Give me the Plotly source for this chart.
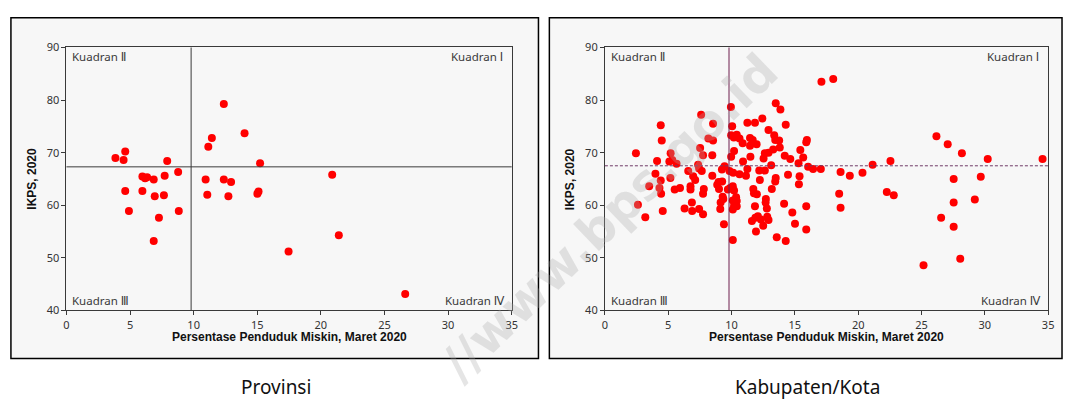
import plotly.graph_objects as go

W, H = 1070, 406

# Provinsi: poverty rate (%) vs IKPS 2020
prov_miskin = [12.37, 14.0, 11.43, 11.15, 15.22, 3.85, 4.62, 4.49, 7.92, 8.78,
               5.97, 6.18, 6.34, 6.86, 7.72, 10.94, 12.37, 12.94, 4.62, 5.97,
               6.94, 7.66, 11.07, 12.73, 15.01, 15.1, 4.91, 8.83, 7.27, 6.86,
               17.46, 20.89, 21.41, 26.63]
prov_ikps = [79.25, 73.7, 72.8, 71.1, 68.0, 69.0, 70.2, 68.6, 68.4, 66.3,
             65.46, 65.15, 65.3, 64.9, 65.6, 64.9, 64.9, 64.4, 62.7, 62.7,
             61.7, 61.9, 62.0, 61.7, 62.2, 62.6, 58.9, 58.9, 57.6, 53.2,
             51.2, 65.8, 54.3, 43.1]

# Kabupaten/Kota: poverty rate (%) vs IKPS 2020
kab_miskin = [2.45, 4.41, 4.49, 4.12, 5.19, 5.09, 5.32, 5.66, 3.99, 5.17,
              7.60, 8.54, 8.17, 8.54, 7.52, 7.75, 8.48, 6.58, 7.36, 7.44,
              7.65, 6.97, 8.48, 9.24, 9.45, 9.95, 10.05, 9.97, 10.18, 10.2,
              9.97, 9.84, 10.13, 17.1, 18.03, 13.49, 13.86, 11.25, 11.85, 12.43,
              14.28, 12.92, 13.37, 13.45, 13.76, 10.41, 10.63, 11.46, 11.67, 10.88,
              11.98, 11.46, 15.95, 15.9, 13.81, 13.29, 15.43, 12.63, 12.92, 12.53,
              11.49, 14.2, 14.64, 15.66, 15.29, 10.91, 13.13, 16.05, 16.44, 17.05,
              21.14, 22.55, 18.61, 19.34, 20.34, 11.25, 10.63, 12.19, 12.63, 14.46,
              15.37, 11.14, 13.49, 26.18, 27.07, 28.19, 30.23, 34.56, 27.54, 29.68,
              22.81, 27.54, 29.21, 26.55, 27.54, 28.06, 25.16, 18.5, 18.61, 22.26,
              15.32, 13.45, 12.24, 13.18, 11.72, 11.77, 12.0, 10.36, 10.41, 10.2,
              10.41, 10.1, 12.71, 12.69, 12.79, 14.15, 15.9, 11.85, 14.8, 12.82,
              12.92, 12.08, 11.88, 11.61, 12.32, 12.5, 15.01, 15.9, 11.93, 13.57,
              14.28, 10.1, 2.61, 3.19, 3.5, 4.41, 4.31, 4.44, 4.57, 5.51,
              5.93, 6.29, 6.76, 6.76, 6.87, 6.89, 7.13, 7.44, 7.75, 7.81,
              7.75, 8.87, 9.01, 8.98, 9.26, 9.14, 9.3, 9.35, 9.11, 9.4,
              9.71, 9.89, 10.1, 10.1, 10.2]
kab_ikps = [69.9, 75.2, 72.3, 68.4, 69.9, 68.3, 68.6, 67.9, 66.0, 65.2,
            77.2, 75.5, 72.7, 72.3, 70.9, 69.5, 69.5, 66.5, 67.7, 67.0,
            66.5, 65.5, 65.6, 66.8, 67.4, 78.7, 75.0, 73.3, 72.9, 70.3,
            69.2, 66.5, 66.2, 83.5, 84.0, 79.4, 78.2, 75.7, 75.7, 76.5,
            75.3, 74.3, 73.3, 72.4, 72.3, 73.4, 72.7, 72.8, 72.4, 71.8,
            71.6, 71.3, 72.4, 72.0, 71.0, 70.6, 70.5, 69.9, 70.0, 68.9,
            69.2, 69.4, 68.8, 69.1, 68.0, 68.3, 67.6, 67.3, 66.9, 66.9,
            67.7, 68.4, 66.3, 65.6, 66.2, 66.9, 65.9, 66.6, 66.6, 65.8,
            65.5, 65.6, 65.2, 73.1, 71.6, 69.9, 68.8, 68.8, 65.0, 65.4,
            61.9, 60.5, 61.1, 57.6, 55.9, 49.8, 48.6, 62.2, 59.5, 62.5,
            64.0, 64.5, 64.8, 63.1, 63.1, 62.3, 62.1, 61.5, 60.8, 59.9,
            59.8, 63.6, 61.2, 60.5, 59.4, 60.3, 59.8, 59.8, 58.6, 57.8,
            57.2, 57.9, 57.6, 57.0, 57.3, 56.1, 56.5, 55.4, 55.0, 53.9,
            53.2, 53.4, 60.1, 57.7, 63.6, 64.7, 63.3, 62.2, 58.9, 63.0,
            63.3, 59.4, 63.0, 63.6, 60.5, 58.9, 64.8, 59.3, 58.3, 63.1,
            62.2, 63.9, 63.1, 64.4, 64.5, 60.5, 61.6, 61.2, 59.3, 56.4,
            63.0, 63.3, 60.9, 59.2, 62.8]

# Quadrant thresholds (poverty %, IKPS)
prov_ref = (9.8, 67.3)
kab_ref = (9.8, 67.5)

x_title = "Persentase Penduduk Miskin, Maret 2020"
y_title = "IKPS, 2020"
captions = ["Provinsi", "Kabupaten/Kota"]
quadrants = ["Kuadran \u2160", "Kuadran \u2161", "Kuadran \u2162", "Kuadran \u2163"]
watermark = "//www.bps.go.id"

FONT = "Noto Sans, DejaVu Sans, sans-serif"
BOLD = "Liberation Sans, Arial, sans-serif"


def px(x):
    return x / W


def py(y):
    return 1 - y / H


# plot areas in pixels: (left, right), shared top/bottom
panels = [(64, 513), (607, 1054)]
frames = [(8, 540), (551, 1068)]
top, bottom = 41, 314

fig = go.Figure()
fig.add_trace(go.Scatter(x=prov_miskin, y=prov_ikps, mode="markers",
                         marker=dict(color="#ff0000", size=8),
                         xaxis="x", yaxis="y", showlegend=False))
fig.add_trace(go.Scatter(x=kab_miskin, y=kab_ikps, mode="markers",
                         marker=dict(color="#ff0000", size=8),
                         xaxis="x2", yaxis="y2", showlegend=False))

axis_common = dict(showgrid=False, zeroline=False, showline=True, mirror=True,
                   linecolor="#3a3a3a", linewidth=1, ticks="outside", ticklen=4,
                   tickcolor="#3a3a3a",
                   tickfont=dict(family=FONT, size=11, color="#333333"))

layout = dict(
    width=W, height=H, margin=dict(l=0, r=0, t=0, b=0),
    paper_bgcolor="white", plot_bgcolor="#f7f7f7",
    showlegend=False,
)
for (l, r), ax in zip(panels, ["", "2"]):
    layout["xaxis" + ax] = dict(axis_common, domain=[px(l), px(r)], range=[0, 35],
                                tick0=0, dtick=5, anchor="y" + ax)
    layout["yaxis" + ax] = dict(axis_common, domain=[py(bottom), py(top)],
                                range=[40, 90], tick0=40, dtick=10, anchor="x" + ax)
fig.update_layout(**layout)

shapes = []
for (l, r) in frames:
    shapes.append(dict(type="rect", xref="paper", yref="paper",
                       x0=px(l), x1=px(r), y0=py(364), y1=py(10),
                       line=dict(color="black", width=1.5),
                       fillcolor="#f7f7f7", layer="below"))

# quadrant divider lines
shapes.append(dict(type="line", xref="x", yref="y domain", x0=prov_ref[0], x1=prov_ref[0],
                   y0=0, y1=1, line=dict(color="#3a3a3a", width=1)))
shapes.append(dict(type="line", xref="x domain", yref="y", x0=0, x1=1,
                   y0=prov_ref[1], y1=prov_ref[1], line=dict(color="#3a3a3a", width=1)))
shapes.append(dict(type="line", xref="x2", yref="y2 domain", x0=kab_ref[0], x1=kab_ref[0],
                   y0=0, y1=1, line=dict(color="#6e1f4e", width=1)))
shapes.append(dict(type="line", xref="x2 domain", yref="y2", x0=0, x1=1,
                   y0=kab_ref[1], y1=kab_ref[1],
                   line=dict(color="#6e3a66", width=1, dash="3px,2px")))
fig.update_layout(shapes=shapes)

ann = []
qfont = dict(family=FONT, size=11.5, color="#3a3a3a")
for (l, r) in panels:
    ann += [
        dict(text=quadrants[1], x=px(l + 4), y=py(50), xanchor="left"),
        dict(text=quadrants[0], x=px(r - 7), y=py(50), xanchor="right"),
        dict(text=quadrants[2], x=px(l + 4), y=py(304), xanchor="left"),
        dict(text=quadrants[3], x=px(r - 5), y=py(304), xanchor="right"),
        dict(text="<b>" + x_title + "</b>", x=px((l + r) / 2), y=py(342),
             xanchor="center", font=dict(family=BOLD, size=12, color="#111")),
        dict(text="<b>" + y_title + "</b>", x=px(l - 35), y=py((top + bottom) / 2),
             xanchor="center", textangle=-90,
             font=dict(family=BOLD, size=12, color="#111")),
    ]
for cap, cx in zip(captions, [275, 811]):
    ann.append(dict(text=cap, x=px(cx), y=py(394), xanchor="center",
                    font=dict(family=FONT, size=19, color="#111")))

for a in ann:
    a.setdefault("font", qfont)
    a.update(xref="paper", yref="paper", yanchor="middle", showarrow=False)

# site watermark
ann.append(dict(text="<b>" + watermark + "</b>", x=px(612), y=py(218),
                xref="paper", yref="paper", xanchor="center", yanchor="middle",
                showarrow=False, textangle=-44,
                font=dict(family="DejaVu Sans, sans-serif", size=49,
                          color="rgba(170,170,170,0.3)")))
fig.update_layout(annotations=ann)

fig.write_html("out.html")
